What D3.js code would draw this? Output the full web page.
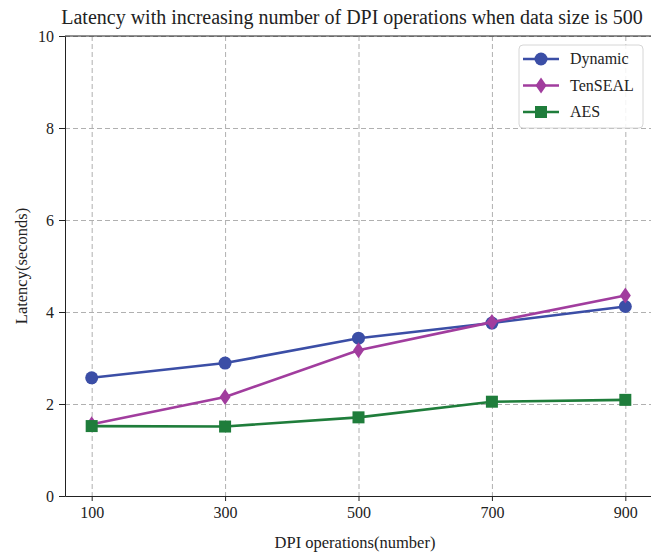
<!DOCTYPE html>
<html>
<head>
<meta charset="utf-8">
<script src="https://cdn.jsdelivr.net/npm/d3@7"></script>
<style>
    body { margin: 0; background: #fff; }
    svg { display: block; }
    svg text { font-family: "Liberation Serif", "DejaVu Serif", serif; }
    .grid line { stroke: #b0b0b0; stroke-dasharray: 5,3; stroke-width: 1; }
    .grid .domain { display: none; }
    .axis text { font-family: "Liberation Serif", serif; font-size: 16px; fill: #222; }
    .axis line, .axis path { stroke: #222; }
</style>
</head>
<body>
<div id="chart"></div>
<script>
// Data
const operations = [100, 300, 500, 700, 900];
const dynamicVals = [2.57, 2.89, 3.43, 3.76, 4.12];
const tensealVals = [1.56, 2.15, 3.17, 3.78, 4.36];
const aesVals = [1.52, 1.51, 1.71, 2.05, 2.09];
const yTicks = [0, 2, 4, 6, 8, 10];

const series = [
    {'key': 'Dynamic', 'values': dynamicVals, 'color': '#3b4ea6', 'marker': 'circle'},
    {'key': 'TenSEAL', 'values': tensealVals, 'color': '#a13d9e', 'marker': 'diamond'},
    {'key': 'AES', 'values': aesVals, 'color': '#1f7d3b', 'marker': 'square'}
];

const W = 651, H = 556;
const margin = {'top': 36, 'left': 65, 'right': -1, 'bottom': 60};
const width = W - margin.left - margin.right,
      height = H - margin.top - margin.bottom;

const svg = d3.select('#chart').append('svg')
    .attr('width', W)
    .attr('height', H);

const g = svg.append('g')
    .attr('transform', 'translate(' + margin.left + ',' + margin.top + ')');

const x = d3.scaleLinear().domain([60, 940]).range([0, width]);
const y = d3.scaleLinear().domain([0, 10]).range([height, 0]);

// GRIDLINES
g.append('g').attr('class', 'grid')
    .call(d3.axisBottom(x).tickValues(operations).tickSize(height).tickFormat(''));
g.append('g').attr('class', 'grid')
    .call(d3.axisLeft(y).tickValues(yTicks).tickSize(-width).tickFormat(''));

// AXIS
g.append('g')
    .attr('class', 'axis axis--x')
    .attr('transform', 'translate(0,' + height + ')')
    .call(d3.axisBottom(x).tickValues(operations).tickSize(5).tickPadding(6).tickSizeOuter(0));

g.append('g')
    .attr('class', 'axis axis--y')
    .call(d3.axisLeft(y).tickValues(yTicks).tickSize(6).tickPadding(5).tickSizeOuter(0));

// frame top + right
g.append('line').attr('x1', 0).attr('x2', width).attr('y1', 0).attr('y2', 0)
    .attr('stroke', '#222');
g.append('line').attr('x1', width).attr('x2', width).attr('y1', 0).attr('y2', height)
    .attr('stroke', '#222');

// TITLE
svg.append('text')
    .attr('x', margin.left + (W - margin.left) / 2 - 6)
    .attr('y', 24)
    .attr('text-anchor', 'middle')
    .style('font-size', '20px')
    .style('fill', '#222')
    .text('Latency with increasing number of DPI operations when data size is 500');

// AXIS LABELS
svg.append('text')
    .attr('x', margin.left + (W - margin.left) / 2 - 3)
    .attr('y', 548)
    .attr('text-anchor', 'middle')
    .style('font-size', '16.5px')
    .style('fill', '#222')
    .text('DPI operations(number)');

svg.append('text')
    .attr('transform', 'translate(27,' + (margin.top + height / 2) + ') rotate(-90)')
    .attr('text-anchor', 'middle')
    .style('font-size', '16.5px')
    .style('fill', '#222')
    .text('Latency(seconds)');

// markers
function drawMarker(sel, type, color) {
    if (type === 'circle') {
        sel.append('circle').attr('r', 6.5).attr('fill', color);
    } else if (type === 'diamond') {
        sel.append('path').attr('d', 'M0,-8L5.5,0L0,8L-5.5,0Z').attr('fill', color);
    } else {
        sel.append('rect').attr('x', -6).attr('y', -6).attr('width', 12).attr('height', 12).attr('fill', color);
    }
}

const line = d3.line()
    .x(function(d) { return x(d[0]); })
    .y(function(d) { return y(d[1]); });

series.forEach(function(s) {
    const pts = operations.map(function(o, i) { return [o, s.values[i]]; });
    const sg = g.append('g').attr('class', 'line--group');
    sg.append('path')
        .attr('d', line(pts))
        .attr('fill', 'none')
        .attr('stroke', s.color)
        .attr('stroke-width', 2.6);
    sg.selectAll('.pt').data(pts).enter()
        .append('g')
        .attr('transform', function(d) { return 'translate(' + x(d[0]) + ',' + y(d[1]) + ')'; })
        .each(function() { drawMarker(d3.select(this), s.marker, s.color); });
});

// LEGEND
const lg = svg.append('g').attr('transform', 'translate(519,45)');
lg.append('rect')
    .attr('width', 124).attr('height', 83)
    .attr('rx', 4)
    .attr('fill', '#fff').attr('fill-opacity', 0.85)
    .attr('stroke', '#d6d6d6');

series.forEach(function(s, i) {
    const row = lg.append('g').attr('transform', 'translate(0,' + (14 + i * 26.5) + ')');
    row.append('line')
        .attr('x1', 4).attr('x2', 40)
        .attr('stroke', s.color).attr('stroke-width', 2.6);
    drawMarker(row.append('g').attr('transform', 'translate(22,0)'), s.marker, s.color);
    row.append('text')
        .attr('x', 51).attr('y', 5)
        .style('font-size', '16px')
        .style('fill', '#222')
        .text(s.key);
});
</script>
</body>
</html>
